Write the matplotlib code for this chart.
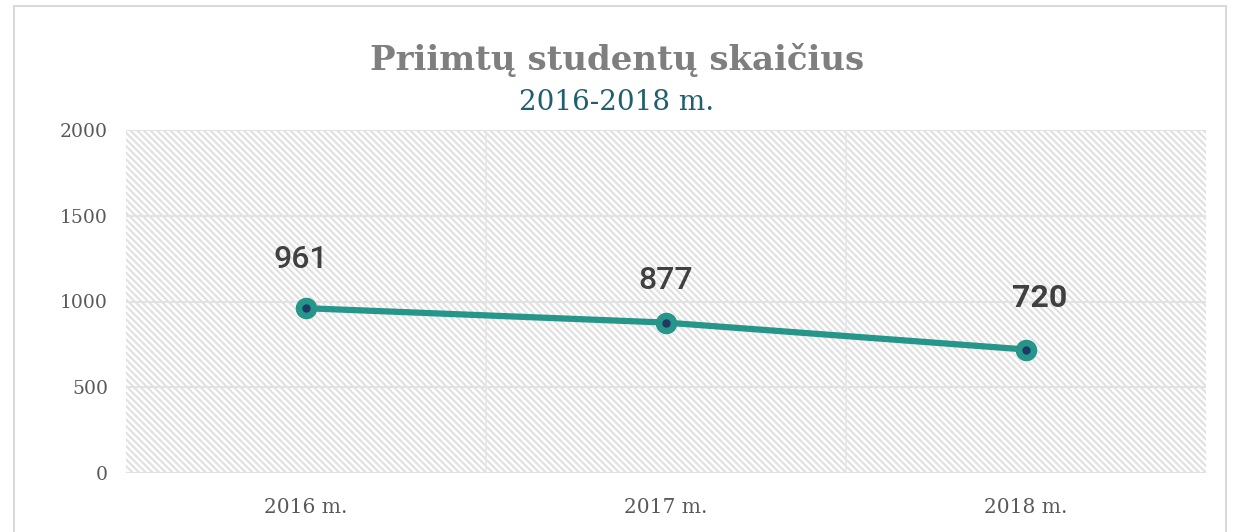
import matplotlib
matplotlib.use("Agg")
import matplotlib.pyplot as plt
from matplotlib.patches import Rectangle

categories = ["2016 m.", "2017 m.", "2018 m."]
values = [961, 877, 720]
yticks = [0, 500, 1000, 1500, 2000]
title = "Priimtų studentų skaičius"
subtitle = "2016-2018 m."

# label offsets (points) and weights - style only
label_offsets = [(-4, 35), (0, 30), (10, 37)]
label_weights = ["medium", "medium", "bold"]

plt.rcParams['hatch.linewidth'] = 1.5
plt.rcParams['hatch.color'] = '#e0e0e0'

fig = plt.figure(figsize=(12.34, 5.32), dpi=100)
# chart frame
fig.patches.append(Rectangle((14/1234, -0.01), (1226-14)/1234, 1 - 6/532 + 0.01,
                             transform=fig.transFigure, fill=False,
                             edgecolor='#d9d9d9', linewidth=1.5))

ax = fig.add_axes([126/1234, 1 - 473/532, (1206-126)/1234, (473-130)/532])
ax.set_xlim(-0.5, len(categories) - 0.5)
ax.set_ylim(0, 2000)

# hatched background
ax.add_patch(Rectangle((0, 0), 1, 1, transform=ax.transAxes, facecolor='white',
                       hatch='\\\\\\\\\\', edgecolor='#e0e0e0', linewidth=0, zorder=0))

for y in yticks:
    ax.axhline(y, color='#e2e2e2', linewidth=1.5, zorder=1)
for xb in [0.5, 1.5]:
    ax.axvline(xb, color='#e6e6e6', linewidth=1.2, zorder=1)

x = list(range(len(categories)))
ax.plot(x, values, color='#26968a', linewidth=4.5, solid_capstyle='round', zorder=3)
ax.plot(x, values, linestyle='none', marker='o', markersize=14.5,
        markerfacecolor='#26968a', markeredgecolor='#26968a', zorder=4)
ax.plot(x, values, linestyle='none', marker='o', markersize=5,
        markerfacecolor='#1f3864', markeredgecolor='#1f3864', zorder=5)

for xi, v, off, w in zip(x, values, label_offsets, label_weights):
    ax.annotate(str(v), (xi, v), xytext=off, textcoords='offset points',
                ha='center', va='center', fontsize=23, fontweight=w,
                family='Roboto', color='#404040', zorder=6)

ax.set_xticks(x)
ax.set_xticklabels(categories, family='DejaVu Serif', fontsize=14.5, color='#595959')
ax.set_yticks(yticks)
ax.set_yticklabels([str(t) for t in yticks], family='DejaVu Serif', fontsize=13.5, color='#595959')
ax.tick_params(length=0)
ax.tick_params(axis='y', pad=13)
ax.tick_params(axis='x', pad=18)
for s in ax.spines.values():
    s.set_visible(False)

fig.text(0.5, 1 - 60/532, title, ha='center', va='center', family='DejaVu Serif',
         fontweight='bold', fontsize=24.5, color='#7f7f7f')
fig.text(0.5, 1 - 102/532, subtitle, ha='center', va='center', family='DejaVu Serif',
         fontsize=20, color='#1f5f6f')

fig.savefig("out.png", dpi=100)
